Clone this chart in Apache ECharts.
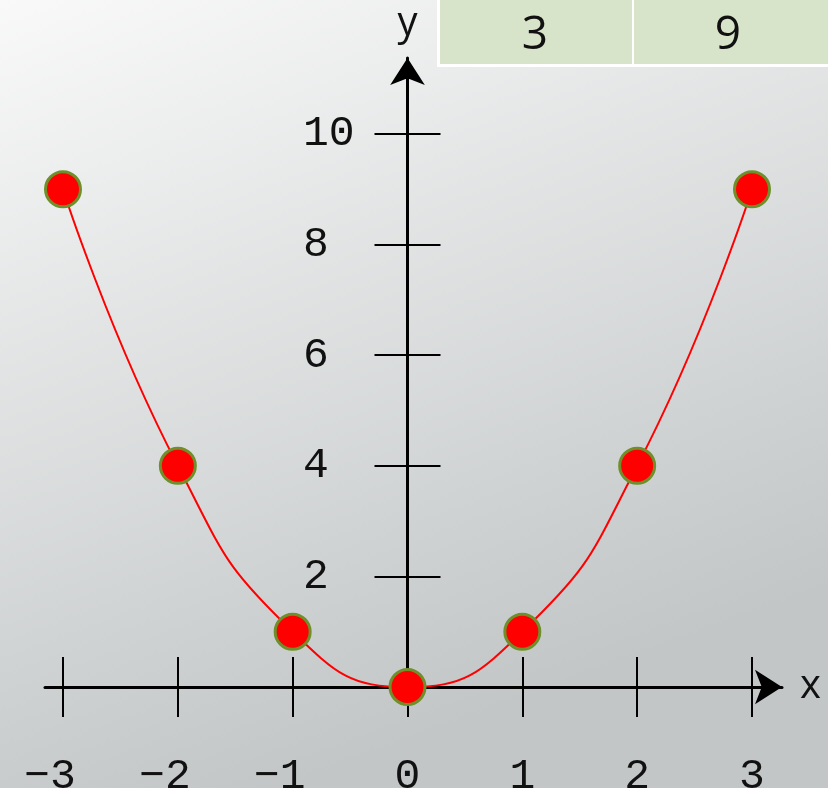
<!doctype html>
<html>
<head>
<meta charset="utf-8">
<title>y = x²</title>
<script src="https://cdn.jsdelivr.net/npm/echarts@6/dist/echarts.min.js"></script>
</head>
<body style="margin:0;padding:0">
<div id="tb" style="width:828px;height:788px"></div>
<script>
// 数据：y = x² 的取值表
var xData = [-3, -2, -1, 0, 1, 2, 3];
var yData = [9, 4, 1, 0, 1, 4, 9];
// 刻度
var xTicks = [-3, -2, -1, 0, 1, 2, 3];
var yTicks = [0, 2, 4, 6, 8, 10];
// 右上角表格那一行
var tableRow = ['3', '9'];

var monoFont = 'Liberation Mono';
var sansFont = 'Open Sans';

// 网格位置（像素）
var gLeft = 63, gRight = 76, gTop = 134, gBottom = 101;
var W = 828, H = 788;
var gW = W - gLeft - gRight, gH = H - gTop - gBottom;
var pxX = gW / (xTicks[xTicks.length - 1] - xTicks[0]);
var pxY = gH / (yTicks[yTicks.length - 1] - yTicks[0]);
var zeroX = gLeft + (0 - xTicks[0]) * pxX;
// 带箭头的长轴线所在网格
var aLeft = 45, aRight = 46, aTop = 58;

var chart = echarts.init(document.getElementById('tb'));

var pts = xData.map(function (x, i) { return [x, yData[i]]; });

function tickAxis(pos, extra) {
    var o = {
        gridIndex: 0,
        type: 'value',
        position: pos,
        axisLine: { show: false, onZero: true },
        splitLine: { show: false },
        axisLabel: { show: false },
        axisTick: { show: true, length: 30, lineStyle: { color: '#000', width: 2 } }
    };
    for (var k in extra) o[k] = extra[k];
    return o;
}

chart.setOption({
    backgroundColor: {
        type: 'linear', x: 0, y: 0, x2: 0.35, y2: 1,
        colorStops: [
            { offset: 0, color: '#f9f9f9' },
            { offset: 1, color: '#c2c6c7' }
        ]
    },
    animation: false,
    grid: [
        { left: gLeft, right: gRight, top: gTop, bottom: gBottom, containLabel: false, outerBoundsMode: 'none' },
        { left: aLeft, right: aRight, top: aTop, bottom: gBottom, containLabel: false, outerBoundsMode: 'none' }
    ],
    xAxis: [
        tickAxis('bottom', {
            min: xTicks[0], max: xTicks[xTicks.length - 1], interval: 1,
            axisLabel: {
                show: true, margin: 68, color: '#111',
                fontFamily: monoFont, fontSize: 43,
                formatter: function (v) { return v < 0 ? '\u2212' + (-v) + ' ' : String(v); }
            }
        }),
        tickAxis('top', { min: xTicks[0], max: xTicks[xTicks.length - 1], interval: 1 }),
        {
            gridIndex: 1, type: 'value',
            min: -(zeroX - aLeft) / pxX, max: (W - aRight - zeroX) / pxX,
            axisLine: { onZero: true, symbol: ['none', 'arrow'], symbolSize: [26, 27],
                lineStyle: { color: '#000', width: 3 } },
            axisTick: { show: false }, axisLabel: { show: false }, splitLine: { show: false },
            name: 'x', nameLocation: 'end', nameGap: 18,
            nameTextStyle: { fontFamily: sansFont, fontSize: 40, color: '#111', verticalAlign: 'middle' }
        }
    ],
    yAxis: [
        tickAxis('left', {
            min: yTicks[0], max: yTicks[yTicks.length - 1], interval: 2,
            axisTick: { show: true, length: 33, lineStyle: { color: '#000', width: 2 } },
            axisLabel: {
                show: true, margin: gLeft - 303, align: 'left', color: '#111',
                fontFamily: monoFont, fontSize: 43,
                formatter: function (v) { return v === 0 ? '' : String(v); }
            }
        }),
        tickAxis('right', {
            min: yTicks[0], max: yTicks[yTicks.length - 1], interval: 2,
            axisTick: { show: true, length: 33, lineStyle: { color: '#000', width: 2 } }
        }),
        {
            gridIndex: 1, type: 'value',
            min: 0, max: (H - gBottom - aTop) / pxY,
            axisLine: { onZero: true, symbol: ['none', 'arrow'], symbolSize: [26, 27],
                lineStyle: { color: '#000', width: 3 } },
            axisTick: { show: false }, axisLabel: { show: false }, splitLine: { show: false },
            name: 'y', nameLocation: 'end', nameGap: 14,
            nameTextStyle: { fontFamily: sansFont, fontSize: 40, color: '#111' }
        }
    ],
    series: [{
        type: 'line',
        xAxisIndex: 0,
        yAxisIndex: 0,
        smooth: 0.5,
        symbol: 'circle',
        symbolSize: 35,
        lineStyle: { color: '#ff0000', width: 2 },
        itemStyle: { color: '#ff0000', borderColor: '#6f8f2b', borderWidth: 3, opacity: 1 },
        data: pts,
        z: 5
    }],
    graphic: [{
        type: 'group',
        left: 437, top: 0,
        children: [
            { type: 'rect', shape: { x: 0, y: 0, width: 391, height: 67 }, style: { fill: '#ffffff' } },
            { type: 'rect', shape: { x: 3, y: 0, width: 192, height: 64 }, style: { fill: '#d8e4c9' } },
            { type: 'rect', shape: { x: 197, y: 0, width: 194, height: 64 }, style: { fill: '#d8e4c9' } },
            { type: 'text', x: 98, y: 36, style: { text: tableRow[0], font: '46px "Open Sans"', fill: '#111', align: 'center', verticalAlign: 'middle' } },
            { type: 'text', x: 291, y: 36, style: { text: tableRow[1], font: '46px "Open Sans"', fill: '#111', align: 'center', verticalAlign: 'middle' } }
        ]
    }]
});
</script>
</body>
</html>
